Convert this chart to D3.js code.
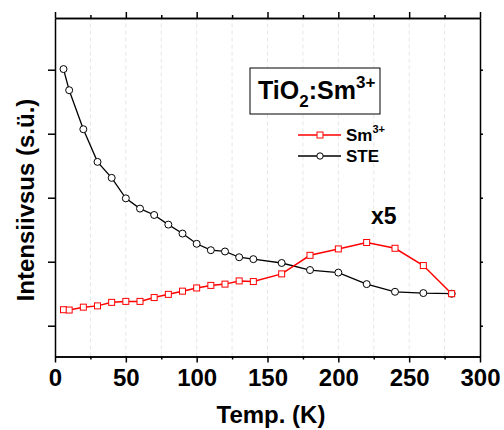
<!DOCTYPE html>
<html>
<head>
<meta charset="utf-8">
<script src="https://cdn.jsdelivr.net/npm/d3@7"></script>
<style>
  body { margin: 0; background: #fff; }
  svg text { font-family: "Liberation Sans", Arial, sans-serif; font-weight: bold; }
</style>
</head>
<body>
<div id="chart"></div>
<script>
// temperatures (K)
const temps = [6, 10, 20, 30, 40, 50, 60, 70, 80, 90, 100, 110, 120, 130, 140, 160, 180, 200, 220, 240, 260, 280];
// intensities (a.u.)
const steValues = [4.01, 3.68, 3.07, 2.56, 2.31, 1.99, 1.83, 1.73, 1.58, 1.44, 1.28, 1.18, 1.16, 1.07, 1.04, 0.98, 0.87, 0.83, 0.65, 0.53, 0.51, 0.50];
const smValues = [0.25, 0.245, 0.29, 0.31, 0.365, 0.38, 0.38, 0.44, 0.49, 0.54, 0.59, 0.63, 0.65, 0.70, 0.69, 0.81, 1.10, 1.20, 1.30, 1.21, 0.94, 0.50];
const xMajorTicks = [0, 50, 100, 150, 200, 250, 300];
const xMinorTicks = [25, 75, 125, 175, 225, 275];
const gridTicks = [25, 50, 75, 100, 125, 150, 175, 200, 225, 250, 275];
const yTicks = [0, 1, 2, 3, 4];

const width = 504;
const height = 430;
const margin = { top: 18, right: 24, bottom: 73.5, left: 55 };

const svg = d3.select("#chart")
  .append("svg")
  .attr("width", width)
  .attr("height", height);

const x = d3.scaleLinear()
  .domain([0, 300])
  .range([margin.left, width - margin.right]);

const y = d3.scaleLinear()
  .domain([-0.481, 4.808])
  .range([height - margin.bottom, margin.top]);

const x0 = margin.left, x1 = width - margin.right;
const y0 = height - margin.bottom, y1 = margin.top;

// vertical dashed grid
svg.append("g")
  .selectAll("line")
  .data(gridTicks)
  .join("line")
  .attr("x1", d => x(d))
  .attr("x2", d => x(d))
  .attr("y1", y0)
  .attr("y2", y1)
  .attr("stroke", "#e6e6e6")
  .attr("stroke-width", 1)
  .attr("stroke-dasharray", "4,3");

// axes
function styleAxis(g) {
  g.select(".domain").attr("stroke", "#000").attr("stroke-width", 1.5);
  g.selectAll(".tick line").attr("stroke", "#000").attr("stroke-width", 1.5);
}

// bottom: minor + major with labels
svg.append("g")
  .attr("transform", `translate(0,${y0})`)
  .call(d3.axisBottom(x).tickValues(xMinorTicks).tickSize(3).tickSizeOuter(0).tickFormat(""))
  .call(styleAxis);
const bottom = svg.append("g")
  .attr("transform", `translate(0,${y0})`)
  .call(d3.axisBottom(x).tickValues(xMajorTicks).tickSize(6).tickSizeOuter(0).tickPadding(6))
  .call(styleAxis);
bottom.selectAll(".tick text")
  .attr("font-size", 24)
  .attr("fill", "#000")
  .attr("dy", "0.71em")
  .attr("y", 12);

// top
svg.append("g")
  .attr("transform", `translate(0,${y1})`)
  .call(d3.axisTop(x).tickValues(xMinorTicks).tickSize(3).tickSizeOuter(0).tickFormat(""))
  .call(styleAxis);
svg.append("g")
  .attr("transform", `translate(0,${y1})`)
  .call(d3.axisTop(x).tickValues(xMajorTicks).tickSize(6).tickSizeOuter(0).tickFormat(""))
  .call(styleAxis);

// left
svg.append("g")
  .attr("transform", `translate(${x0},0)`)
  .call(d3.axisLeft(y).tickValues(yTicks).tickSize(7).tickSizeOuter(0).tickFormat(""))
  .call(styleAxis);

// right
svg.append("g")
  .attr("transform", `translate(${x1},0)`)
  .call(d3.axisRight(y).tickValues(yTicks).tickSize(3).tickSizeOuter(0).tickFormat(""))
  .call(styleAxis);

// series
const steData = temps.map((t, i) => ({ t, v: steValues[i] }));
const smData = temps.map((t, i) => ({ t, v: smValues[i] }));

const line = d3.line().x(d => x(d.t)).y(d => y(d.v));

svg.append("path")
  .datum(steData)
  .attr("fill", "none")
  .attr("stroke", "#000")
  .attr("stroke-width", 1.3)
  .attr("d", line);

svg.append("path")
  .datum(smData)
  .attr("fill", "none")
  .attr("stroke", "#ff0000")
  .attr("stroke-width", 1.5)
  .attr("d", line);

svg.append("g")
  .selectAll("circle")
  .data(steData)
  .join("circle")
  .attr("cx", d => x(d.t))
  .attr("cy", d => y(d.v))
  .attr("r", 3.5)
  .attr("fill", "#fff")
  .attr("stroke", "#000")
  .attr("stroke-width", 1);

svg.append("g")
  .selectAll("rect")
  .data(smData)
  .join("rect")
  .attr("x", d => x(d.t) - 3)
  .attr("y", d => y(d.v) - 3)
  .attr("width", 6)
  .attr("height", 6)
  .attr("fill", "#fff")
  .attr("stroke", "#ff0000")
  .attr("stroke-width", 1);

// axis titles
svg.append("text")
  .attr("x", 271)
  .attr("y", 423)
  .attr("text-anchor", "middle")
  .attr("font-size", 24)
  .text("Temp. (K)");

svg.append("text")
  .attr("transform", "translate(34,200) rotate(-90)")
  .attr("text-anchor", "middle")
  .attr("font-size", 24)
  .text("Intensiivsus (s.ü.)");

// sample box
svg.append("rect")
  .attr("x", 250)
  .attr("y", 68)
  .attr("width", 130)
  .attr("height", 46)
  .attr("fill", "#fff")
  .attr("stroke", "#000")
  .attr("stroke-width", 1);

const title = svg.append("text")
  .attr("x", 258)
  .attr("y", 99)
  .attr("font-size", 25);
title.append("tspan").text("TiO");
title.append("tspan").attr("font-size", 17).attr("dy", 8).text("2");
title.append("tspan").attr("dy", -8).text(":Sm");
title.append("tspan").attr("font-size", 17).attr("dy", -11).text("3+");

// legend
const legendItems = [
  { label: "Sm", sup: "3+", color: "#ff0000", shape: "square", y: 135 },
  { label: "STE", sup: "", color: "#000", shape: "circle", y: 156 }
];
legendItems.forEach(item => {
  svg.append("line")
    .attr("x1", 298).attr("x2", 341)
    .attr("y1", item.y).attr("y2", item.y)
    .attr("stroke", item.color)
    .attr("stroke-width", 1.5);
  if (item.shape === "square") {
    svg.append("rect")
      .attr("x", 317).attr("y", item.y - 3)
      .attr("width", 6).attr("height", 6)
      .attr("fill", "#fff").attr("stroke", item.color);
  } else {
    svg.append("circle")
      .attr("cx", 320).attr("cy", item.y).attr("r", 3.2)
      .attr("fill", "#fff").attr("stroke", item.color);
  }
  const t = svg.append("text")
    .attr("x", 346)
    .attr("y", item.y + 6)
    .attr("font-size", 17)
    .text(item.label);
  if (item.sup) {
    t.append("tspan").attr("font-size", 11).attr("dy", -8).text(item.sup);
  }
});

// scale factor note
svg.append("text")
  .attr("x", 371)
  .attr("y", 224)
  .attr("font-size", 23)
  .text("x5");
</script>
</body>
</html>
